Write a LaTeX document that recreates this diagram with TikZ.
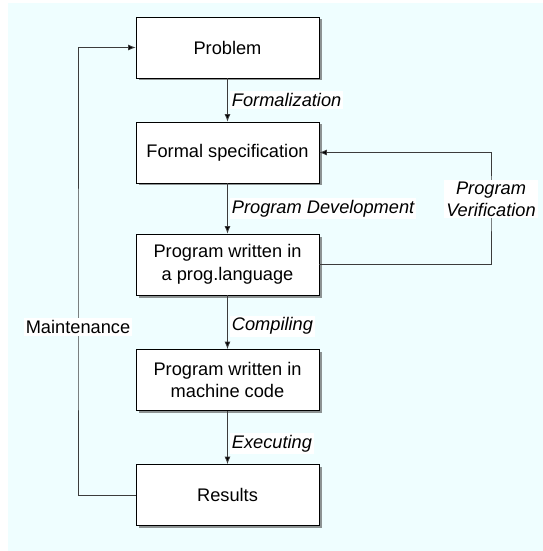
\documentclass[tikz,border=0pt]{standalone}
\usepackage{fontspec}
\setmainfont{Liberation Sans}
\usetikzlibrary{arrows.meta, shadows}
\definecolor{bgcyan}{RGB}{239,254,255}
\definecolor{linegray}{RGB}{60,60,60}

\begin{document}
\begin{tikzpicture}[x=1bp, y=-1bp,
        block/.style={draw=black, fill=white, line width=0.8bp, minimum width=183bp, minimum height=61bp,
            align=center, font=\fontsize{18.3}{23}\selectfont,
            drop shadow={shadow xshift=2.5bp, shadow yshift=-2.5bp, opacity=0.6, fill=black!70}},
        flow/.style={draw=linegray, line width=0.8bp, -{Latex[length=7.5bp, width=6bp, fill=black]}},
        elabel/.style={fill=white, inner sep=2bp, font=\fontsize{18.3}{22}\selectfont\itshape},
        mlabel/.style={fill=white, inner sep=2bp, font=\fontsize{18.3}{22}\selectfont}]
        \useasboundingbox (0, 0) rectangle (543, 551);
        \fill[bgcyan] (8, 3) rectangle (543, 551);

        \node[block] (prob) at (227.5, 47.5) {Problem};
        \node[block] (spec) at (227.5, 152.5) {Formal specification};
        \node[block] (lang) at (227.5, 264.5) {Program written in\\a prog.language};
        \node[block] (mach) at (227.5, 380) {Program written in\\machine code};
        \node[block] (res) at (227.5, 495) {Results};

        \draw[flow] (prob) -- node[elabel, right=2bp] {Formalization} (spec);
        \draw[flow] (spec) -- node[elabel, right=2bp] {Program Development} (lang);
        \draw[flow] (lang) -- node[elabel, right=2bp, yshift=-4bp] {Compiling} (mach);
        \draw[flow] (mach) -- node[elabel, right=2bp, yshift=-6bp] {Executing} (res);

        % feedback loops
        \coordinate (vcorner) at (491, 199);
        \draw[flow] (lang.east) -| (vcorner) |- (spec.east);
        \node[elabel, align=center] (verif) at (vcorner) {Program\\Verification};

        \coordinate (mcorner) at (78, 327);
        \draw[flow] (res.west) -| (mcorner) |- (prob.west);
        \node[mlabel] (maint) at (mcorner) {Maintenance};
    \end{tikzpicture}
\end{document}
